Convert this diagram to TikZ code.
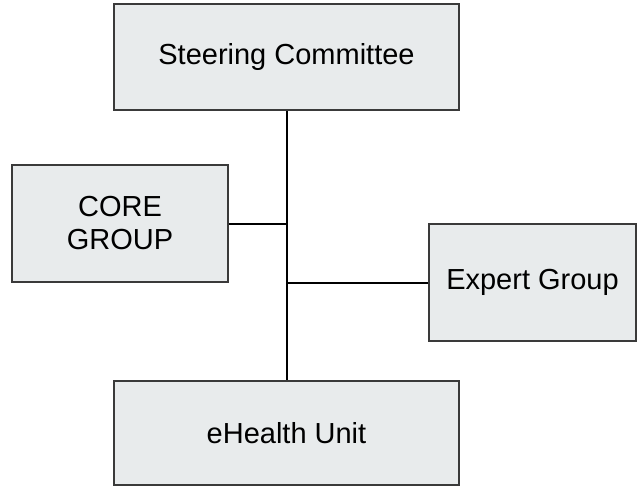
\documentclass[tikz,border=0pt]{standalone}
\usepackage{fontspec}
\setmainfont{Liberation Sans}
\usepackage{tikz}
\definecolor{boxfill}{HTML}{E8EBEC}
\definecolor{boxline}{HTML}{3A3A3A}

\begin{document}
\begin{tikzpicture}[x=1pt,y=-1pt,
    unit/.style={draw=boxline,fill=boxfill,line width=1.8pt,inner sep=0pt,
      font=\fontsize{29}{33}\selectfont,align=center},
    link/.style={line width=2pt,black}]
  \useasboundingbox (0,0) rectangle (637,485);
  % boxes placed at pixel centres, sizes given as width/height
  \node[unit,minimum width=345pt,minimum height=106pt] (steering) at (286.5,57) {Steering Committee};
  \node[unit,minimum width=216pt,minimum height=117pt] (core) at (120,223.5) {CORE\\GROUP};
  \node[unit,minimum width=207pt,minimum height=117pt] (expert) at (532.5,282.5) {Expert Group};
  \node[unit,minimum width=345pt,minimum height=104pt] (ehealth) at (286.5,433) {eHealth Unit};
  % trunk and branches
  \draw[link] (steering.south) -- (ehealth.north);
  \draw[link] (core.east) -- (core.east -| steering.south);
  \draw[link] (expert.west) -- (expert.west -| steering.south);
\end{tikzpicture}
\end{document}
